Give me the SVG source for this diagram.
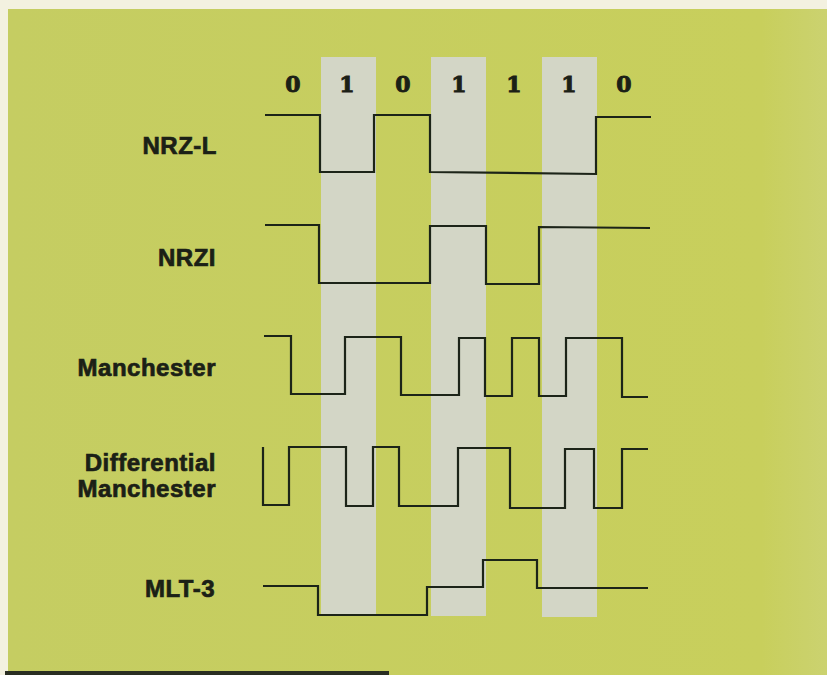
<svg xmlns="http://www.w3.org/2000/svg" width="827" height="675" viewBox="0 0 827 675">
<defs>
<style>
.lbl{font-family:"Liberation Sans",Arial,sans-serif;font-weight:bold;font-size:24px;fill:#1b2016;stroke:#1b2016;stroke-width:0.7px;text-anchor:end;letter-spacing:0.5px}
.bit{font-family:"DejaVu Serif","Liberation Serif",serif;font-weight:bold;font-size:22px;fill:#1b2016;stroke:#1b2016;stroke-width:0.9px;text-anchor:middle}
.sig{fill:none;stroke:#1c2418;stroke-width:2.2;stroke-linejoin:miter;stroke-linecap:butt}
.band{fill:#d3d6c6}
</style>
<linearGradient id="bg" x1="0" y1="0" x2="1" y2="0">
<stop offset="0" stop-color="#c5cd62"/>
<stop offset="0.92" stop-color="#c8cf5c"/>
<stop offset="1" stop-color="#cbd270"/>
</linearGradient>
</defs>
<rect x="0" y="0" width="827" height="675" fill="#f3f1e0"/>
<rect x="8" y="9" width="819" height="666" fill="url(#bg)"/>
<rect x="5" y="671" width="384" height="4" fill="#2a2e22"/>
<g id="bands">
<rect class="band" x="321" y="57" width="55" height="557"/>
<rect class="band" x="431" y="57" width="55" height="559"/>
<rect class="band" x="542" y="57" width="55" height="560"/>
</g>
<g id="bits">
<text class="bit" x="293" y="92">0</text>
<text class="bit" x="347" y="92">1</text>
<text class="bit" x="403" y="92">0</text>
<text class="bit" x="459" y="92">1</text>
<text class="bit" x="514" y="92">1</text>
<text class="bit" x="569" y="92">1</text>
<text class="bit" x="624" y="92">0</text>
</g>
<g id="labels">
<text class="lbl" x="217" y="154">NRZ-L</text>
<text class="lbl" x="216" y="266">NRZI</text>
<text class="lbl" x="216" y="376">Manchester</text>
<text class="lbl" x="216" y="471">Differential</text>
<text class="lbl" x="216" y="497">Manchester</text>
<text class="lbl" x="215" y="597">MLT-3</text>
</g>
<g id="signals">
<path id="nrzl" class="sig" d="M265,115 H320 V172 H374 V115 H430 V172 L596,174 V117 H651"/>
<path id="nrzi" class="sig" d="M265,225 H319 V283 H430 V226 H486 V284 H539 V227 L650,228"/>
<path id="manchester" class="sig" d="M264,336 H291 V394 H345 V337 H401 V395 H459 V338 H485 V396 H512 V338 H539 V396 H566 V338 H622 V397 H648"/>
<path id="diffmanchester" class="sig" d="M263,447 V505 H289 V447 H346 V506 H373 V447 H399 V506 H458 V448 H510 V508 H565 V449 H594 V508 H622 V449 H648"/>
<path id="mlt3" class="sig" d="M263,586 H318 V615 H427 V587 H483 V560 H537 V588 H648"/>
</g>
</svg>
